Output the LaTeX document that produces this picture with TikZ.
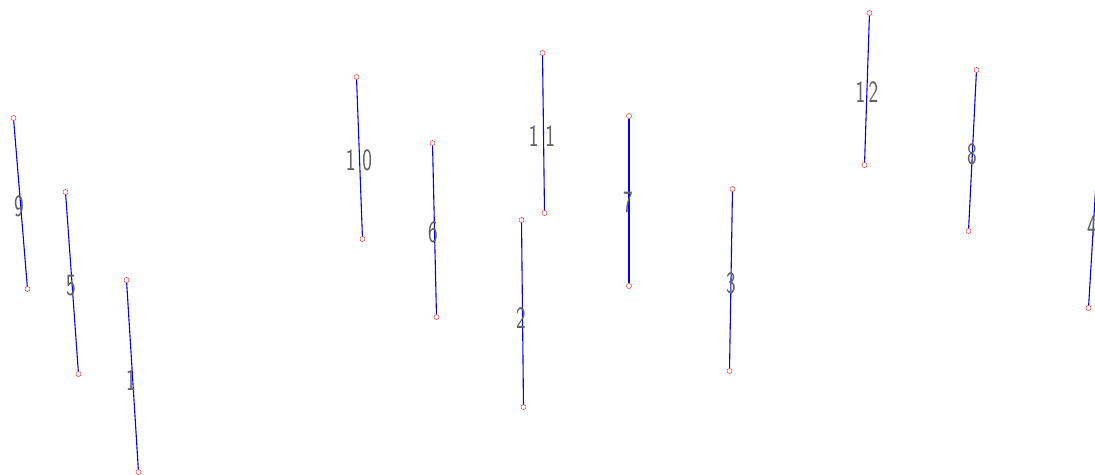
\documentclass[tikz,border=0pt]{standalone}
\begin{document}
\begin{tikzpicture}[x=1pt,y=-1pt,
  endpt/.style={circle,draw=red!80,line width=0.5pt,minimum size=5pt,inner sep=0pt},
  member/.style={draw=blue,line width=1.1pt},
  lbl/.style={text=black!62,font=\sffamily\fontsize{31}{31}\selectfont,xscale=0.66,inner sep=0pt}]
\useasboundingbox (0,0) rectangle (1095,474);
\clip (0,0) rectangle (1095,474);
% members: name, top, bottom
\foreach \n/\xa/\ya/\xb/\yb in {9/13.5/118/27.5/289, 5/65.5/192/78.5/374, 1/126.5/280/138.5/472,
  10/356.5/77/362.5/239, 6/432.5/143/436.5/317, 11/542.5/53/544.5/213, 2/521.5/220/523.5/407,
  7/629/116/629/286, 3/732.5/189/729.5/371, 12/869.5/13/864.5/165, 8/976.5/70/968.5/231,
  4/1098.5/140/1088.5/308}{
  \node[endpt] (t\n) at (\xa,\ya) {};
  \node[endpt] (b\n) at (\xb,\yb) {};
  \draw[member] (t\n) -- (b\n);
}
\node[lbl] (l9) at (19,206) {9};
\node[lbl] (l5) at (71,286) {5};
\node[lbl] (l1) at (131,380) {1};
\node[lbl] (l10) at (359,160) {1\,\,0};
\node[lbl] (l6) at (433,232) {6};
\node[lbl] (l11) at (542,136) {1\,\,1};
\node[lbl] (l2) at (521,318) {2};
\node[lbl] (l7) at (628,202) {7};
\node[lbl] (l3) at (731,283) {3};
\node[lbl] (l12) at (867,92) {1\,2};
\node[lbl] (l8) at (972,154) {8};
\node[lbl] (l4) at (1092,226) {4};
\end{tikzpicture}
\end{document}
